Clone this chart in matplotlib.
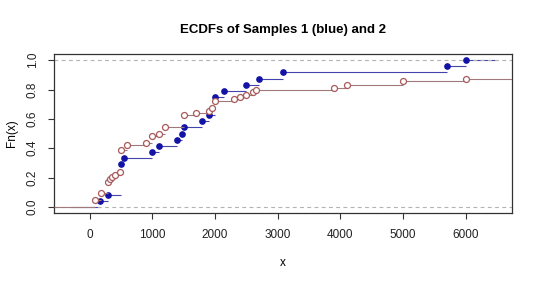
import numpy as np
import matplotlib
matplotlib.use("Agg")
import matplotlib.pyplot as plt

plt.rcParams['font.family'] = ['Liberation Sans', 'DejaVu Sans']

# sample 1 (blue), 24 values, ties written out
sample1 = [170, 300, 500, 500, 500, 500, 500, 550, 1000, 1100, 1400, 1480,
           1500, 1800, 1900, 2000, 2000, 2000, 2150, 2500, 2700, 3080,
           5700, 6000]
n1 = len(sample1)

# sample 2 (red), 64 values in total, 8 of them lie beyond the plotted range
sample2_visible = [80, 80, 80, 190, 190, 190, 290, 290, 290, 290, 290, 320,
                   360, 400, 480] + [500] * 10 + [600, 600, 900, 1000, 1000,
                   1000, 1100, 1200, 1200, 1200] + [1500] * 5 + [1700, 1900,
                   1950, 2000, 2000, 2000, 2300, 2400, 2500, 2600, 2650,
                   3900, 4100, 5000, 5000, 6000]
n2 = 64

y_ticks = [0.0, 0.2, 0.4, 0.6, 0.8, 1.0]
x_ticks = [0, 1000, 2000, 3000, 4000, 5000, 6000]


def ecdf(sample, n):
    vals, counts = np.unique(sample, return_counts=True)
    return vals, np.cumsum(counts) / n


x1, y1 = ecdf(sample1, n1)
x2, y2 = ecdf(sample2_visible, n2)

# R's plot.stepfun range: knots extended by 8% of their span
dr = 0.08 * (x1[-1] - x1[0])
lo, hi = x1[0] - dr, x1[-1] + dr
pad = 0.04 * (hi - lo)
xlim = (lo - pad, hi + pad)

fig = plt.figure(figsize=(5.4, 2.82), dpi=100)
ax = fig.add_axes([0.1, 0.2457, 0.848, 0.5617])

blue_line = '#4444aa'
blue_pt = '#1212a6'
red_line = '#a07a7a'
red_pt = '#a85a5a'

# sample 1
ax.hlines(np.r_[0, y1], np.r_[lo, x1], np.r_[x1, hi], color=blue_line, lw=0.8)
ax.plot(x1, y1, 'o', ms=3.8, color=blue_pt, mec=blue_pt, zorder=3)
for h in (0, 1):
    ax.axhline(h, color='#b3b3b3', lw=0.8, ls=(0, (3.5, 3)), zorder=2.5)

# sample 2
ax.hlines(np.r_[0, y2], np.r_[xlim[0], x2], np.r_[x2, xlim[1]], color=red_line, lw=0.8, zorder=3.5)
ax.plot(x2, y2, 'o', ms=4.3, mfc='white', mec=red_pt, mew=0.9, zorder=4)

ax.set_xlim(xlim)
ax.set_ylim(-0.04, 1.04)
ax.set_xticks(x_ticks)
ax.set_xticklabels([str(t) for t in x_ticks], fontsize=8.5)
ax.set_yticks(y_ticks)
ax.set_yticklabels(['%.1f' % t for t in y_ticks], fontsize=8.5, rotation=90, va='center')
ax.tick_params(direction='out', length=4, width=0.8, color='#333333', colors='#222222')
ax.tick_params(axis='x', pad=8)
ax.tick_params(axis='y', pad=7)
for s in ax.spines.values():
    s.set_linewidth(0.9)
    s.set_color('#333333')

ax.set_xlabel('x', fontsize=8.5, labelpad=11)
ax.set_ylabel('Fn(x)', fontsize=8.5, labelpad=6)
ax.set_title('ECDFs of Samples 1 (blue) and 2', fontsize=9.5, fontweight='bold', pad=15)

fig.savefig('out.png', dpi=100)
